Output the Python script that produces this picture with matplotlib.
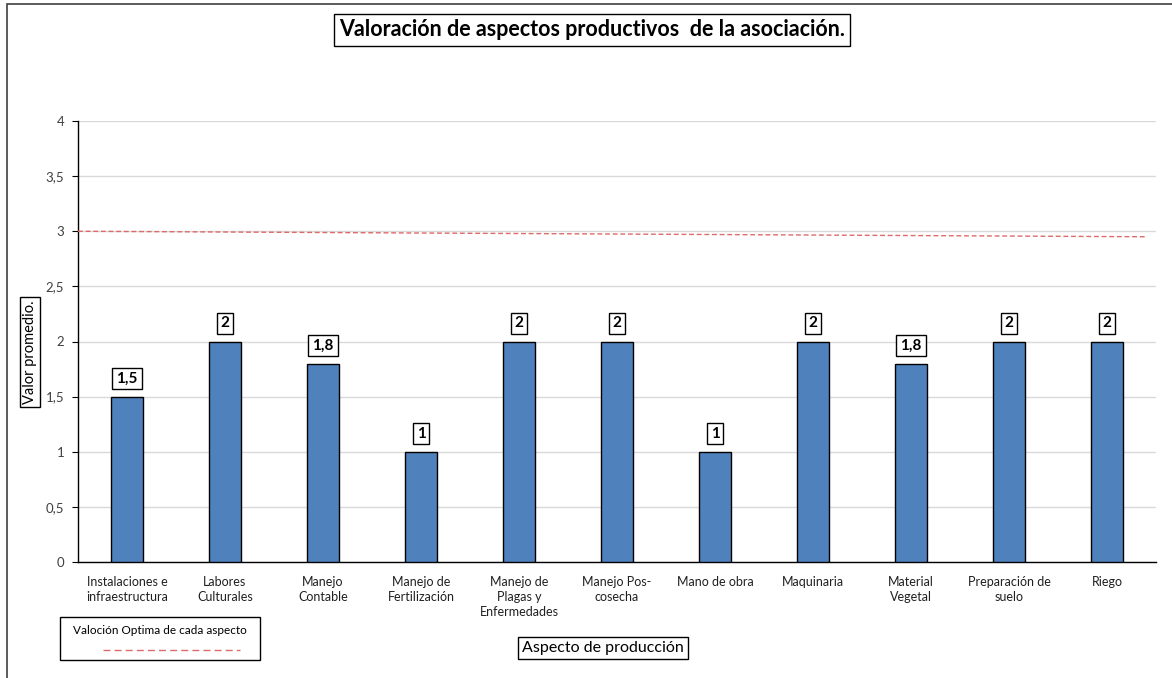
import matplotlib
matplotlib.use("Agg")
import matplotlib.pyplot as plt
from matplotlib.patches import Rectangle

plt.rcParams['font.family'] = ['Lato', 'DejaVu Sans']

categories = ["Instalaciones e\ninfraestructura", "Labores\nCulturales", "Manejo\nContable",
              "Manejo de\nFertilización", "Manejo de\nPlagas y\nEnfermedades", "Manejo Pos-\ncosecha",
              "Mano de obra", "Maquinaria", "Material\nVegetal", "Preparación de\nsuelo", "Riego"]
values = [1.5, 2, 1.8, 1, 2, 2, 1, 2, 1.8, 2, 2]
value_labels = ["1,5", "2", "1,8", "1", "2", "2", "1", "2", "1,8", "2", "2"]
optimal_start = 3.0
optimal_end = 2.95
yticks = [0, 0.5, 1, 1.5, 2, 2.5, 3, 3.5, 4]
ytick_labels = ["0", "0,5", "1", "1,5", "2", "2,5", "3", "3,5", "4"]

red = "#DC6B69"

fig = plt.figure(figsize=(11.72, 6.78), dpi=100)
ax = fig.add_axes([78/1172, 1-562/678, (1156-78)/1172, (562-121)/678])

x = list(range(len(categories)))
ax.bar(x, values, width=0.33, color="#4F81BD", edgecolor="black", linewidth=1.0, zorder=3)
ax.set_xlim(-0.5, len(categories)-0.5)
ax.set_ylim(0, 4)
ax.set_yticks(yticks)
ax.set_yticklabels(ytick_labels, fontsize=9.5, color="#404040")
ax.set_xticks(x)
ax.set_xticklabels(categories, fontsize=9, color="#202020", linespacing=1.3)
ax.tick_params(axis='x', length=0, pad=10)
ax.tick_params(axis='y', length=4, width=0.8, color="black", pad=6)
ax.grid(axis='y', color="#d9d9d9", linewidth=1.0, zorder=0)
for s in ["top", "right"]:
    ax.spines[s].set_visible(False)
ax.spines["left"].set_linewidth(1.0)
ax.spines["bottom"].set_linewidth(1.0)

# optimal line
ax.plot([-0.5, 10.41], [optimal_start, optimal_end], color=red, linestyle=(0, (3.5, 2)),
        linewidth=1.0, zorder=4)

for xi, v, lab in zip(x, values, value_labels):
    ax.annotate(lab, (xi, v), xytext=(0, 8), textcoords="offset points", ha="center", va="bottom",
                fontsize=11, fontweight="bold",
                bbox=dict(boxstyle="square,pad=0.25", fc="white", ec="black", lw=1.0), zorder=5)

fig.text(592/1172, 1-30/678, "Valoración de aspectos productivos  de la asociación.", ha="center",
         va="center", fontsize=15.5, fontweight="bold",
         bbox=dict(boxstyle="square,pad=0.25", fc="white", ec="black", lw=1.0))

fig.text(30/1172, 1-352/678, "Valor promedio.", rotation=90, ha="center", va="center", fontsize=10.5,
         bbox=dict(boxstyle="square,pad=0.2", fc="white", ec="black", lw=1.0))

fig.text(603/1172, 1-648/678, "Aspecto de producción", ha="center", va="center", fontsize=11.5,
         bbox=dict(boxstyle="square,pad=0.25", fc="white", ec="black", lw=1.0))

# legend box
fig.add_artist(Rectangle((60/1172, 1-660/678), 200/1172, 43/678, transform=fig.transFigure,
                         fill=False, ec="black", lw=1.0))
fig.text(160/1172, 1-630/678, "Valoción Optima de cada aspecto", ha="center", va="center", fontsize=8.5)
fig.add_artist(plt.Line2D([103/1172, 240/1172], [1-650/678, 1-650/678], transform=fig.transFigure,
                          color=red, linestyle=(0, (5, 3)), lw=1.0))

# outer border
fig.add_artist(Rectangle((7/1172, -0.05), 1.1, 1-4/678+0.05, transform=fig.transFigure,
                         fill=False, ec="#404040", lw=1.2))

fig.savefig("out.png", dpi=100)
